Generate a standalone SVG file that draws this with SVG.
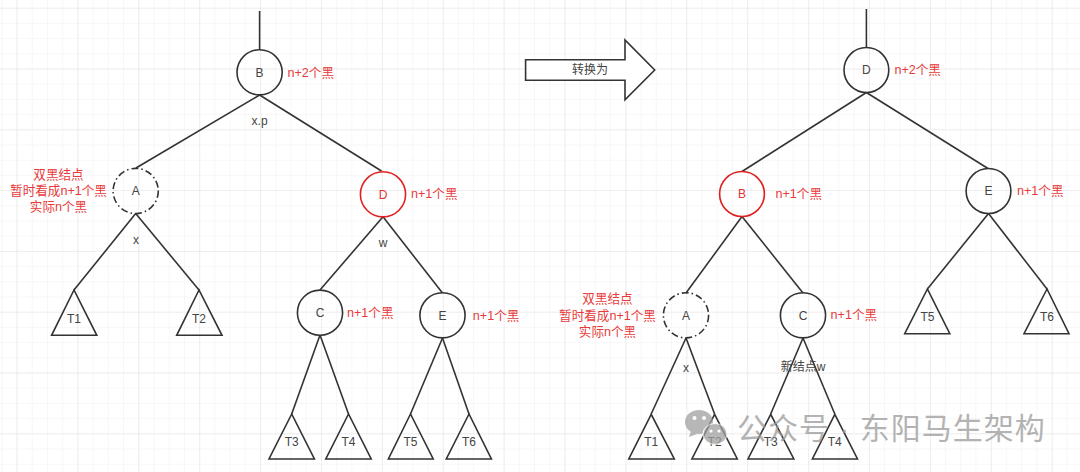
<svg xmlns="http://www.w3.org/2000/svg" width="1080" height="472" viewBox="0 0 1080 472">
<defs>
<pattern id="minor" width="15.22" height="15.2" patternUnits="userSpaceOnUse" x="1.3" y="7.7"><path d="M0 0H15.22M0 0V15.2" fill="none" stroke="#f0f0f0" stroke-width="1"/></pattern>
<pattern id="major" width="60.9" height="60.8" patternUnits="userSpaceOnUse" x="16.5" y="7.7"><path d="M0 0H60.9M0 0V60.8" fill="none" stroke="#e3e3e3" stroke-width="1"/></pattern>
</defs>
<style>
text{font-family:"Liberation Sans","Noto Sans CJK SC",sans-serif;font-size:12px;fill:#444;text-anchor:middle;dominant-baseline:central}
.r{fill:#e83a3a;font-size:12.6px}
.s{text-anchor:start}
.n{fill:none;stroke:#333;stroke-width:1.6}
.w{fill:#fff}
.red{stroke:#e02020}
.dash{stroke-dasharray:7 3 1.5 3}
.c line{stroke:#333;stroke-width:1.6}
.wm{font-size:30px;fill:#9a9a9a;letter-spacing:1px;text-anchor:start}
</style>
<rect width="1080" height="472" fill="#fff"/>
<rect width="1080" height="472" fill="url(#minor)"/>
<rect width="1080" height="472" fill="url(#major)"/>
<g id="connectors" class="c">
<line x1="259.6" y1="11" x2="259.6" y2="50"/>
<line x1="259.6" y1="95" x2="136" y2="168"/>
<line x1="259.6" y1="95" x2="381.5" y2="171"/>
<line x1="135.7" y1="213.5" x2="74" y2="290"/>
<line x1="135.7" y1="213.5" x2="199" y2="290"/>
<line x1="383" y1="216.8" x2="320" y2="290"/>
<line x1="383" y1="216.8" x2="442.5" y2="293"/>
<line x1="320" y1="335" x2="291.7" y2="414"/>
<line x1="320" y1="335" x2="348.5" y2="414"/>
<line x1="442.5" y1="338" x2="410.5" y2="414"/>
<line x1="442.5" y1="338" x2="469" y2="414"/>
<line x1="866.4" y1="9" x2="866.4" y2="47.5"/>
<line x1="866.4" y1="92.5" x2="742" y2="171.5"/>
<line x1="866.4" y1="92.5" x2="988" y2="168.5"/>
<line x1="742" y1="216.5" x2="686" y2="293"/>
<line x1="742" y1="216.5" x2="803" y2="293"/>
<line x1="686" y1="338" x2="651.2" y2="414"/>
<line x1="686" y1="338" x2="714.6" y2="414"/>
<line x1="803" y1="338" x2="770.7" y2="414"/>
<line x1="803" y1="338" x2="834.8" y2="414"/>
<line x1="988.5" y1="213.5" x2="927.4" y2="289"/>
<line x1="988.5" y1="213.5" x2="1047" y2="289"/>
</g>
<g id="left-B"><circle class="n" cx="259.6" cy="72.3" r="22.6"/><text x="259.6" y="72.5">B</text></g>
<g id="left-A"><circle class="n dash" cx="135.7" cy="191" r="22.6"/><text x="135.7" y="191">A</text></g>
<g id="left-D"><circle class="n red" cx="383" cy="194.3" r="22.6"/><text x="383" y="194.5" style="fill:#d33">D</text></g>
<g id="left-C"><circle class="n" cx="320" cy="312.7" r="22.6"/><text x="320" y="313">C</text></g>
<g id="left-E"><circle class="n" cx="442.5" cy="315.3" r="22.6"/><text x="442.5" y="315.5">E</text></g>
<g id="left-T1"><path class="n" d="M74 290L51.6 335.3H96.8Z"/><text x="74" y="318.7">T1</text></g>
<g id="left-T2"><path class="n" d="M199 290L176.7 335.3H222Z"/><text x="199" y="318.7">T2</text></g>
<g id="left-T3"><path class="n" d="M291.7 414L269 459H314.4Z"/><text x="291.7" y="442">T3</text></g>
<g id="left-T4"><path class="n" d="M348.5 414L325.8 459H371.2Z"/><text x="348.5" y="442">T4</text></g>
<g id="left-T5"><path class="n" d="M410.5 414L388.4 459H433.2Z"/><text x="410.5" y="442">T5</text></g>
<g id="left-T6"><path class="n" d="M469 414L446.3 459H491.4Z"/><text x="469" y="442">T6</text></g>
<text x="259.6" y="120.5">x.p</text>
<text x="136" y="240">x</text>
<text x="383" y="243">w</text>
<text class="r s" x="287.5" y="72.5">n+2个黑</text>
<text class="r" x="58.5" y="174.5">双黑结点</text>
<text class="r" x="58.5" y="191">暂时看成n+1个黑</text>
<text class="r" x="58.5" y="207">实际n个黑</text>
<text class="r s" x="411" y="194">n+1个黑</text>
<text class="r s" x="347" y="312.5">n+1个黑</text>
<text class="r s" x="472.8" y="315.5">n+1个黑</text>
<g id="arrow"><path class="n w" d="M525.6 59.7H625V40L654.7 70L625 99.7V80.3H525.6Z"/><text x="590" y="70">转换为</text></g>
<g id="right-D"><ellipse class="n" cx="866.4" cy="70" rx="22.4" ry="22.5"/><text x="866.4" y="70">D</text></g>
<g id="right-B"><ellipse class="n red" cx="742" cy="194" rx="22.4" ry="22.5"/><text x="742" y="194" style="fill:#d33">B</text></g>
<g id="right-E"><ellipse class="n" cx="988.5" cy="191" rx="22.4" ry="22.5"/><text x="988.5" y="191">E</text></g>
<g id="right-A"><circle class="n dash" cx="686" cy="315.3" r="22.6"/><text x="686" y="315.5">A</text></g>
<g id="right-C"><circle class="n" cx="803" cy="315.3" r="22.6"/><text x="803" y="315.5">C</text></g>
<g id="right-T5"><path class="n" d="M927.4 289L904.7 333.7H949.8Z"/><text x="927.4" y="316.5">T5</text></g>
<g id="right-T6"><path class="n" d="M1047 289L1024 333.7H1069Z"/><text x="1047" y="316.5">T6</text></g>
<g id="right-T1"><path class="n" d="M651.2 414.3L628.8 459H674.3Z"/><text x="651.2" y="442">T1</text></g>
<g id="right-T2"><path class="n" d="M714.6 414.3L691.9 459H737.3Z"/><text x="714.6" y="442">T2</text></g>
<g id="right-T3"><path class="n" d="M770.7 414.3L748 459H793.8Z"/><text x="770.7" y="442">T3</text></g>
<g id="right-T4"><path class="n" d="M834.8 414.3L812.4 459H857.5Z"/><text x="834.8" y="442">T4</text></g>
<text class="r s" x="894.4" y="70">n+2个黑</text>
<text class="r s" x="775.5" y="194">n+1个黑</text>
<text class="r s" x="1017" y="191">n+1个黑</text>
<text class="r" x="607.5" y="299.3">双黑结点</text>
<text class="r" x="607.5" y="315.7">暂时看成n+1个黑</text>
<text class="r" x="607.5" y="332">实际n个黑</text>
<text class="r s" x="830.6" y="315.3">n+1个黑</text>
<text x="686" y="368">x</text>
<text x="803" y="367">新结点w</text>
<g id="watermark" opacity=".75">
<ellipse cx="699" cy="422" rx="14" ry="12" fill="#a0a0a0"/>
<path d="M691 431l-2 6 8-3z" fill="#a0a0a0"/>
<ellipse cx="715" cy="434" rx="12" ry="10.5" fill="#a0a0a0" stroke="#fff" stroke-width="1"/>
<circle cx="694.5" cy="418" r="2" fill="#fff"/><circle cx="704" cy="418" r="2" fill="#fff"/>
<circle cx="711" cy="431" r="1.6" fill="#fff"/><circle cx="719" cy="431" r="1.6" fill="#fff"/>
<text class="wm" x="737" y="428">公众号 · 东阳马生架构</text>
</g>
</svg>
